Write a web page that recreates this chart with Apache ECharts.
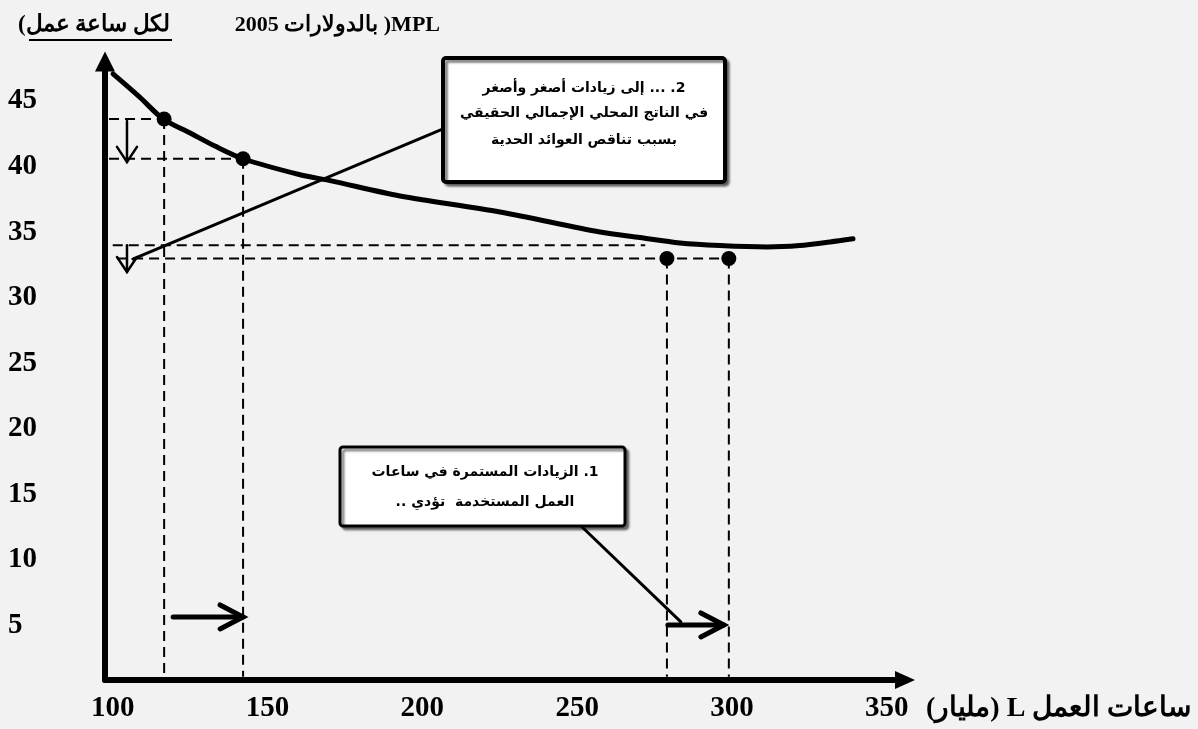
<!DOCTYPE html>
<html>
<head>
<meta charset="utf-8">
<script src="https://cdn.jsdelivr.net/npm/echarts@6/dist/echarts.min.js"></script>
<style>
  html, body { margin: 0; padding: 0; background: #f2f2f2; }
  #chart { width: 1198px; height: 729px; }
</style>
</head>
<body>
<div id="chart"></div>
<script>
// Right-to-left embedding for Arabic strings
const rtl = s => '\u202B' + s + '\u202C';

// Axis tick labels
const xTicks = [100, 150, 200, 250, 300, 350];
const yTicks = [5, 10, 15, 20, 25, 30, 35, 40, 45];

// Marginal product of labour curve: L (billion hours) and MPL ($2005 per hour)
const curveL = [100.1, 108.8, 116.3, 125.0, 133.0, 142.1, 160.5, 170.2, 192.8, 225.1, 257.4, 270.3, 283.2, 296.1, 311.3, 321.9, 331.7, 339.1];
const curveM = [47.06, 45.27, 43.62, 42.55, 41.56, 40.59, 39.37, 38.92, 37.75, 36.53, 35.00, 34.58, 34.17, 33.97, 33.86, 33.97, 34.24, 34.48];

// Highlighted points
const pointL = [116.6, 142.1, 279.0, 299.0];
const pointM = [43.62, 40.59, 32.98, 32.98];

// Horizontal guide levels: [from L, MPL, to L]
const levelFrom = [98.8, 98.8, 100.0, 101.4];
const levelM    = [43.62, 40.59, 34.00, 32.98];
const levelTo   = [116.6, 142.1, 272.0, 299.0];

// Arrows and callout connectors: [L1, MPL1, L2, MPL2, width, head]
const arrowFromL = [104.6, 104.6, 119.5, 279.3, 206.7, 251.6];
const arrowFromM = [43.47, 34.00, 5.64, 5.03, 42.87, 12.50];
const arrowToL   = [104.6, 104.6, 142.1, 297.4, 106.5, 283.5];
const arrowToM   = [40.35, 31.95, 5.64, 5.03, 32.94, 5.26];
const arrowWidth = [2.5, 2.5, 5, 5, 3, 3];
const arrowHead  = [1, 1, 2, 2, 0, 0];

const yMin = 0.83, yMax = 48;
const xMin = 97.5, xMax = 355.9;

const points = pointL.map((l, i) => [l, pointM[i]]);
const curve = curveL.map((l, i) => [l, curveM[i]]);

// dashed guides: horizontal levels plus drops from each point to the axis
const guides = levelM.map((m, i) => [levelFrom[i], m, levelTo[i], m])
  .concat(pointL.map((l, i) => [l, pointM[i], l, yMin + 0.25]));

const arrows = arrowFromL.map((l, i) =>
  [l, arrowFromM[i], arrowToL[i], arrowToM[i], arrowWidth[i], arrowHead[i]]);

const serif = '"Liberation Serif", "Times New Roman", serif';
const arab = '"DejaVu Sans", sans-serif';

const chart = echarts.init(document.getElementById('chart'), null, { renderer: 'canvas' });

const centred = { align: 'center', verticalAlign: 'middle', textAlign: 'center', textVerticalAlign: 'middle' };

chart.setOption({
  backgroundColor: '#f2f2f2',
  animation: false,
  grid: {
    left: 105, right: 293, top: 61.6, bottom: 49,
    containLabel: false, outerBoundsMode: 'none'
  },
  xAxis: {
    type: 'value', min: xMin, max: xMax,
    axisLine: {
      onZero: false,
      lineStyle: { color: '#000', width: 6 },
      symbol: ['none', 'triangle'], symbolSize: [18, 20]
    },
    axisTick: { show: false },
    splitLine: { show: false },
    axisLabel: {
      customValues: xTicks,
      color: '#000', fontFamily: serif, fontWeight: 'bold', fontSize: 29, margin: 14
    },
    name: rtl('ساعات العمل L (مليار)'),
    nameLocation: 'end', nameGap: 21,
    nameTextStyle: {
      color: '#000', fontFamily: serif, fontWeight: 'bold', fontSize: 28,
      align: 'left', verticalAlign: 'top', padding: [15, 0, 0, 0]
    }
  },
  yAxis: {
    type: 'value', min: yMin, max: yMax,
    axisLine: {
      onZero: false,
      lineStyle: { color: '#000', width: 6 },
      symbol: ['none', 'triangle'], symbolSize: [20, 20]
    },
    axisTick: { show: false },
    splitLine: { show: false },
    axisLabel: {
      customValues: yTicks, align: 'left', margin: 97,
      color: '#000', fontFamily: serif, fontWeight: 'bold', fontSize: 29
    }
  },
  graphic: [
    // chart title above the vertical axis
    { type: 'text', x: 440, y: 25, z: 50,
      style: { text: rtl('MPL( بالدولارات 2005'), font: 'bold 22px ' + serif, fill: '#000',
               align: 'right', verticalAlign: 'middle', textAlign: 'right', textVerticalAlign: 'middle' } },
    { type: 'text', x: 18, y: 25, z: 50,
      style: { text: rtl('لكل ساعة عمل)'), font: 'bold 23px ' + serif, fill: '#000',
               align: 'left', verticalAlign: 'middle', textAlign: 'left', textVerticalAlign: 'middle' } },
    { type: 'line', z: 50, shape: { x1: 29, y1: 40, x2: 172, y2: 40 },
      style: { stroke: '#000', lineWidth: 2 } },

    // callout 2
    { type: 'rect', z: 100, shape: { x: 443, y: 58, width: 282, height: 124, r: 3 },
      style: { fill: '#fff', stroke: '#000', lineWidth: 4,
               shadowColor: 'rgba(0,0,0,0.45)', shadowOffsetX: 3, shadowOffsetY: 3, shadowBlur: 2 } },
    { type: 'text', x: 584, y: 88, z: 101,
      style: Object.assign({ text: rtl('2. ... إلى زيادات أصغر وأصغر'), font: 'bold 14px ' + arab, fill: '#000' }, centred) },
    { type: 'text', x: 584, y: 113, z: 101,
      style: Object.assign({ text: rtl('في الناتج المحلي الإجمالي الحقيقي'), font: 'bold 14px ' + arab, fill: '#000' }, centred) },
    { type: 'text', x: 584, y: 140, z: 101,
      style: Object.assign({ text: rtl('بسبب تناقص العوائد الحدية'), font: 'bold 14px ' + arab, fill: '#000' }, centred) },

    // callout 1
    { type: 'rect', z: 100, shape: { x: 340, y: 447, width: 285, height: 79, r: 3 },
      style: { fill: '#fff', stroke: '#000', lineWidth: 3,
               shadowColor: 'rgba(0,0,0,0.45)', shadowOffsetX: 3, shadowOffsetY: 3, shadowBlur: 2 } },
    { type: 'text', x: 485, y: 472, z: 101,
      style: Object.assign({ text: rtl('1. الزيادات المستمرة في ساعات'), font: 'bold 14px ' + arab, fill: '#000' }, centred) },
    { type: 'text', x: 485, y: 502, z: 101,
      style: Object.assign({ text: rtl('العمل المستخدمة  تؤدي ..'), font: 'bold 14px ' + arab, fill: '#000' }, centred) }
  ],
  series: [
    {
      type: 'custom', name: 'guides', silent: true, z: 2,
      data: guides, encode: { x: [0, 2], y: [1, 3] },
      renderItem: (params, api) => {
        const a = api.coord([api.value(0), api.value(1)]);
        const b = api.coord([api.value(2), api.value(3)]);
        return { type: 'line', shape: { x1: a[0], y1: a[1], x2: b[0], y2: b[1] },
                 style: { stroke: '#000', lineWidth: 2, lineDash: [10, 6] } };
      }
    },
    {
      type: 'line', name: 'MPL', data: curve, smooth: 0.3, showSymbol: false, z: 3,
      lineStyle: { color: '#000', width: 5, cap: 'round', join: 'round' }
    },
    {
      type: 'scatter', name: 'points', data: points, symbolSize: 15, z: 5,
      itemStyle: { color: '#000', opacity: 1 }
    },
    {
      type: 'custom', name: 'arrows', silent: true, z: 4,
      data: arrows, encode: { x: [0, 2], y: [1, 3] },
      renderItem: (params, api) => {
        const a = api.coord([api.value(0), api.value(1)]);
        const b = api.coord([api.value(2), api.value(3)]);
        const w = api.value(4), head = api.value(5);
        const children = [{ type: 'line', shape: { x1: a[0], y1: a[1], x2: b[0], y2: b[1] },
                            style: { stroke: '#000', lineWidth: w, lineCap: 'round' } }];
        if (head) {
          const dx = b[0] - a[0], dy = b[1] - a[1];
          const len = Math.hypot(dx, dy) || 1;
          const ux = dx / len, uy = dy / len;
          const back = head === 2 ? 23 : 15, half = head === 2 ? 12 : 10;
          const p1 = [b[0] - ux * back - uy * half, b[1] - uy * back + ux * half];
          const p2 = [b[0] - ux * back + uy * half, b[1] - uy * back - ux * half];
          children.push({ type: 'polyline', shape: { points: [p1, b, p2] },
                          style: { stroke: '#000', fill: null, lineWidth: w, lineCap: 'round', lineJoin: 'miter' } });
        }
        return { type: 'group', children };
      }
    }
  ]
});
</script>
</body>
</html>
